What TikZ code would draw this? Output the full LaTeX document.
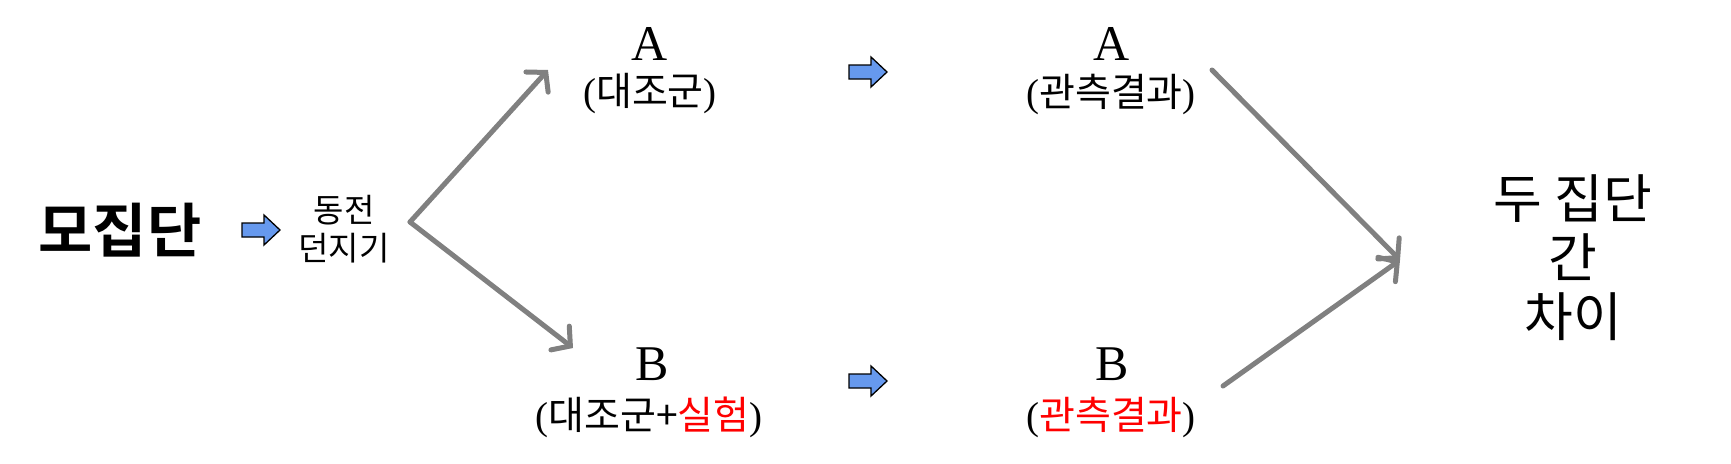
\documentclass[tikz,border=0pt]{standalone}
\usepackage{fontspec}
\setmainfont{Liberation Serif}
\newfontfamily\kr{Noto Sans CJK KR}[BoldFont={Noto Sans CJK KR Bold}]
\usetikzlibrary{arrows.meta}
\definecolor{arrowgray}{RGB}{128,128,128}
\definecolor{arrowblue}{RGB}{102,153,238}
\newcommand\myL{{\rmfamily(}}
\newcommand\myR{{\rmfamily)}}
\tikzset{
  flow/.style={draw=arrowgray, line width=5pt, line cap=round,
    -{Straight Barb[length=13pt,width=30pt,line cap=round]}},
  bluearrow/.pic={\draw[fill=arrowblue, line width=1.3pt, line join=miter]
    (-19,-7) -- (3,-7) -- (3,-15) -- (19,0) -- (3,15) -- (3,7) -- (-19,7) -- cycle;},
  letter/.style={font=\fontsize{50}{50}\selectfont, anchor=base, inner sep=0pt},
  sub/.style={font=\kr\fontsize{39}{39}\selectfont, inner sep=0pt},
}
\begin{document}
\begin{tikzpicture}[x=1pt,y=-1pt]
\useasboundingbox (0,0) rectangle (1731,463);
% left part
\node[font=\kr\bfseries\fontsize{59}{59}\selectfont, inner sep=0pt] (pop) at (120,230) {모집단};
\pic (b1) at (261,230) {bluearrow};
\node[font=\kr\fontsize{33}{38}\selectfont, align=center, inner sep=0pt] (coin) at (344,229) {동전\\던지기};
% groups
\node[letter] (A1) at (650,60) {A};
\node[sub] (A1s) at (650,94) {\myL 대조군\myR};
\node[letter] (B1) at (652,380) {B};
\node[sub] (B1s) at (649,417) {\myL 대조군+\textcolor{red}{실험}\myR};
\pic (b2) at (868,72) {bluearrow};
\pic (b3) at (868,381) {bluearrow};
\node[letter] (A2) at (1112,60) {A};
\node[sub] (A2s) at (1111,94) {\myL 관측결과\myR};
\node[letter] (B2) at (1112,380) {B};
\node[sub] (B2s) at (1111,417) {\myL\textcolor{red}{관측결과}\myR};
% result
\node[font=\kr\fontsize{53}{59}\selectfont, align=center, inner sep=0pt] (diff) at (1573,258) {두 집단\\간\\차이};
% connectors
\coordinate (split) at (410,222);
\coordinate (aIn) at (548,70);
\coordinate (bIn) at (573,348);
\coordinate (aOut) at (1212,70);
\coordinate (bOut) at (1223,386);
\coordinate (merge) at (1400,260);
\draw[flow] (split) -- (aIn);
\draw[flow] (split) -- (bIn);
\draw[flow] (aOut) -- (merge);
\draw[flow] (bOut) -- (merge);
\end{tikzpicture}
\end{document}
